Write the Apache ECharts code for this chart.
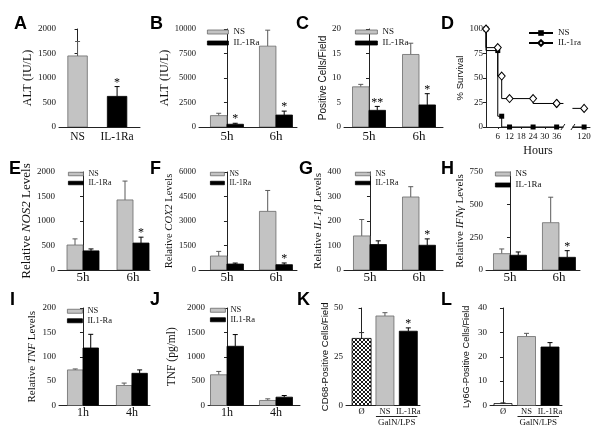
<!DOCTYPE html>
<html><head><meta charset="utf-8">
<script src="https://cdn.jsdelivr.net/npm/echarts@6/dist/echarts.min.js"></script>
<style>html,body{margin:0;padding:0;background:#fff}#c{width:600px;height:438px}</style>
</head><body><div id="c"></div>
<script>
// ---------------- DATA ----------------
// A
const catA = ['NS', 'IL-1Ra'];
const valA = [1450, 625];
const errA = [1745, 825];
const sigA = ['', '*'];
// B
const catB = ['5h', '6h'];
const nsB = [1160, 8250], nsBErr = [1400, 9880];
const ilB = [280, 1220], ilBErr = [380, 1620];
const ilBSig = ['*', '*'];
// C
const catC = ['5h', '6h'];
const nsC = [8.2, 14.8], nsCErr = [8.7, 17.1];
const ilC = [3.4, 4.5], ilCErr = [4.2, 6.8];
const ilCSig = ['**', '*'];
// D (survival)
const hoursD = [0, 6, 8, 12, 24, 36, 120];
const nsD = [100, 78, 11, 0, 0, 0, 0];
const ilD = [100, 81, 52, 29, 29, 24, 19];
const tickD = [6, 12, 18, 24, 30, 36, 120];
// E
const catE = ['5h', '6h'];
const nsE = [510, 1430], nsEErr = [635, 1815];
const ilE = [390, 550], ilEErr = [430, 670];
const ilESig = ['', '*'];
// F
const catF = ['5h', '6h'];
const nsF = [855, 3590], nsFErr = [1140, 4870];
const ilF = [365, 325], ilFErr = [425, 430];
const ilFSig = ['', '*'];
// G
const catG = ['5h', '6h'];
const nsG = [139, 298], nsGErr = [206, 340];
const ilG = [104, 101], ilGErr = [119, 127];
const ilGSig = ['', '*'];
// H
const catH = ['5h', '6h'];
const nsH = [125, 362], nsHErr = [161, 557];
const ilH = [113, 97], ilHErr = [138, 148];
const ilHSig = ['', '*'];
// I
const catI = ['1h', '4h'];
const nsI = [73, 41], nsIErr = [75, 46];
const ilI = [118, 66], ilIErr = [146, 73];
// J
const catJ = ['1h', '4h'];
const nsJ = [630, 103], nsJErr = [699, 137];
const ilJ = [1215, 171], ilJErr = [1455, 205];
// K
const catK = ['Ø', 'NS', 'IL-1Ra'];
const valK = [34.4, 45.9, 38.1], errK = [37.4, 47.6, 39.8];
const sigK = ['', '', '*'];
// L
const catL = ['Ø', 'NS', 'IL-1Ra'];
const valL = [0.8, 28.3, 24.0], errL = [1.1, 29.6, 25.8];

// ---------------- STYLE / HELPERS ----------------
const SERIF = 'Liberation Serif', SANS = 'Liberation Sans';
const GRAY = '#c3c3c3', GRAY_EDGE = '#6a6a6a', BLACK = '#000', INK = '#111';
const grids = [], xAxes = [], yAxes = [], series = [], legends = [], titles = [];

function hatchCanvas() {
  const c = document.createElement('canvas'); c.width = 4; c.height = 4;
  const g = c.getContext('2d');
  g.fillStyle = '#fff'; g.fillRect(0, 0, 4, 4);
  g.strokeStyle = '#000'; g.lineWidth = 0.9;
  g.beginPath(); g.moveTo(0, 0); g.lineTo(4, 4); g.moveTo(4, 0); g.lineTo(0, 4); g.stroke();
  return c;
}
const HATCH = {image: hatchCanvas(), repeat: 'repeat'};

function pick(v, i) { return Array.isArray(v) ? v[i] : v; }

function addGrid(left, top, width, height) {
  grids.push({left, top, width, height, containLabel: false, outerBoundsMode: 'none'});
  return grids.length - 1;
}
function addCatX(gi, cats, min, max, fs, margin) {
  xAxes.push({gridIndex: gi, type: 'value', min, max,
    axisLine: {show: true, onZero: false, lineStyle: {color: '#222', width: 1}},
    axisTick: {show: false}, splitLine: {show: false},
    axisLabel: {customValues: cats.map((c, i) => i), formatter: v => cats[Math.round(v)],
      fontFamily: SERIF, fontSize: fs, color: INK, margin}});
}
function addY(gi, max, interval, name, gap, family, fs, labelFs, rich) {
  yAxes.push({gridIndex: gi, type: 'value', min: 0, max, interval,
    axisLine: {show: true, lineStyle: {color: '#222', width: 1}},
    axisTick: {show: true, length: 3, lineStyle: {color: '#222'}},
    splitLine: {show: false},
    axisLabel: {fontFamily: SERIF, fontSize: labelFs || 9, color: INK, margin: 3, formatter: v => String(v)},
    name, nameLocation: 'middle', nameGap: gap, nameRotate: 90,
    nameTextStyle: {fontFamily: family, fontSize: fs, color: INK, rich: rich || {}}});
}
function italicRich(family, fs) {
  return {i: {fontStyle: 'italic', fontFamily: family, fontSize: fs, color: INK}};
}
function barRenderer(cfg) {
  return function (params, api) {
    const i = params.dataIndex;
    const x = api.value(0), v = api.value(1), e = api.value(2);
    const p0 = api.coord([x, 0]), p1 = api.coord([x, v]), pe = api.coord([x, e]);
    const cx = p0[0] + cfg.offset;
    const bw = pick(cfg.barW, i);
    const ec = pick(cfg.errColor, i);
    const children = [
      {type: 'line', shape: {x1: cx, y1: p1[1], x2: cx, y2: pe[1]}, style: {stroke: ec, lineWidth: 1}},
      {type: 'line', shape: {x1: cx - 2.5, y1: pe[1], x2: cx + 2.5, y2: pe[1]}, style: {stroke: ec, lineWidth: 1}},
      {type: 'rect', shape: {x: cx - bw / 2, y: p1[1], width: bw, height: p0[1] - p1[1]},
        style: {fill: pick(cfg.fill, i), stroke: pick(cfg.stroke, i), lineWidth: 0.8}}
    ];
    const s = cfg.sigs && cfg.sigs[i];
    if (s) children.push({type: 'text', style: {text: s, x: cx, y: pe[1] + 2, align: 'center',
      verticalAlign: 'bottom', font: '12px "Liberation Serif"', fill: '#000'}});
    return {type: 'group', children};
  };
}
function addBars(gi, name, vals, errs, cfg, legendStyle) {
  series.push({type: 'custom', name, xAxisIndex: gi, yAxisIndex: gi, clip: true,
    itemStyle: legendStyle, encode: {x: 0, y: [1, 2]},
    data: vals.map((v, k) => [k, v, errs[k]]), renderItem: barRenderer(cfg)});
}
const NS_STYLE = {color: GRAY, borderColor: GRAY_EDGE, borderWidth: 0.8};
const IL_STYLE = {color: BLACK, borderColor: BLACK, borderWidth: 0.8};

function addLegend(left, top, names, iw, ih, fs, lh, gap) {
  legends.push({left, top, orient: 'vertical', padding: 0, itemWidth: iw, itemHeight: ih, itemGap: gap,
    icon: 'rect', selectedMode: false,
    data: [{name: names[0], itemStyle: NS_STYLE}, {name: names[1], itemStyle: IL_STYLE}],
    textStyle: {fontFamily: SERIF, fontSize: fs, lineHeight: lh, color: INK}});
}

function pairPanel(p) {
  const gi = addGrid(p.left, p.top, p.width, p.height);
  addCatX(gi, p.cats, p.xmin, p.xmax, p.catFs, p.catMargin);
  addY(gi, p.ymax, p.yint, p.name, p.gap, p.family, p.fs, p.labelFs, p.rich);
  addBars(gi, 'NS', p.ns, p.nsErr, {offset: -p.bw / 2, barW: p.bw, fill: GRAY, stroke: GRAY_EDGE, errColor: '#5a5a5a'}, NS_STYLE);
  addBars(gi, p.ilName, p.il, p.ilErr, {offset: p.bw / 2, barW: p.bw, fill: BLACK, stroke: BLACK, errColor: '#000', sigs: p.ilSig}, IL_STYLE);
  addLegend(p.lg[0], p.lg[1], ['NS', p.ilName], p.lg[2], p.lg[3], p.lg[4], p.lg[5], p.lg[6]);
  return gi;
}

// ---------------- PANELS ----------------
// A
const gA = addGrid(59, 29, 81, 98);
addCatX(gA, catA, -0.47, 1.58, 11.5, 4);
addY(gA, 2000, 500, 'ALT (IU/L)', 23, SERIF, 12, 9);
addBars(gA, 'ALT', valA, errA, {offset: 0, barW: 19.5, fill: [GRAY, BLACK], stroke: [GRAY_EDGE, BLACK],
  errColor: ['#5a5a5a', '#000'], sigs: sigA}, NS_STYLE);

// B
pairPanel({left: 199, top: 29, width: 98, height: 98, xmin: -0.571, xmax: 1.43, cats: catB, catFs: 13, catMargin: 3,
  ymax: 10000, yint: 2500, name: 'ALT (IU/L)', gap: 20, family: SERIF, fs: 12, labelFs: 8.5,
  ns: nsB, nsErr: nsBErr, il: ilB, ilErr: ilBErr, ilSig: ilBSig, ilName: 'IL-1Ra', bw: 16.5,
  lg: [207, 27.5, 21, 4, 9, 9, 2]});
// C
pairPanel({left: 344, top: 29, width: 99, height: 98, xmin: -0.5, xmax: 1.48, cats: catC, catFs: 13, catMargin: 3,
  ymax: 20, yint: 5, name: 'Positive Cells/Field', gap: 14, family: SANS, fs: 10, labelFs: 9,
  ns: nsC, nsErr: nsCErr, il: ilC, ilErr: ilCErr, ilSig: ilCSig, ilName: 'IL-1Ra', bw: 16.5,
  lg: [355, 27.5, 22, 4, 9, 9, 2]});

// D (survival, broken x axis)
const breakX = h => (h <= 36 ? h : 50);
const gD = addGrid(486, 29, 104, 98);
xAxes.push({gridIndex: gD, type: 'value', min: 0, max: 53,
  axisLine: {show: true, onZero: false, lineStyle: {color: '#222'}},
  axisTick: {show: true, length: 2, customValues: tickD.map(breakX), lineStyle: {color: '#222'}},
  splitLine: {show: false},
  axisLabel: {customValues: tickD.map(breakX), formatter: v => String(tickD[tickD.map(breakX).indexOf(v)]),
    fontFamily: SERIF, fontSize: 9, color: INK, margin: 5},
  name: 'Hours', nameLocation: 'middle', nameGap: 18,
  nameTextStyle: {fontFamily: SERIF, fontSize: 12, color: INK}});
addY(gD, 100, 25, '% Survival', 20, SANS, 9.5, 9);
const dPts = (vals) => hoursD.map((h, i) => [breakX(h), vals[i]]);
series.push({type: 'line', name: 'NS-D', xAxisIndex: gD, yAxisIndex: gD, step: 'start', data: dPts(nsD),
  symbol: 'rect', symbolSize: 5, lineStyle: {color: '#000', width: 1}, itemStyle: {color: '#000'}, z: 3});
const ilPts = dPts(ilD);
series.push({type: 'line', name: 'IL-1ra', xAxisIndex: gD, yAxisIndex: gD, step: 'start', data: ilPts.slice(0, 6),
  symbol: 'diamond', symbolSize: [7, 8], lineStyle: {color: '#000', width: 1},
  itemStyle: {color: '#fff', borderColor: '#000', borderWidth: 1}, z: 4});
series.push({type: 'line', name: 'IL-1ra', xAxisIndex: gD, yAxisIndex: gD, step: 'middle', data: ilPts.slice(5),
  symbol: 'diamond', symbolSize: [7, 8], lineStyle: {color: '#000', width: 1},
  itemStyle: {color: '#fff', borderColor: '#000', borderWidth: 1}, z: 4});
legends.push({left: 528, top: 28.5, orient: 'vertical', padding: 0, itemWidth: 24, itemHeight: 7, itemGap: 1,
  selectedMode: false, data: ['NS-D', 'IL-1ra'], formatter: n => (n === 'NS-D' ? 'NS' : n),
  textStyle: {fontFamily: SERIF, fontSize: 9, lineHeight: 9, color: INK}});

// E
pairPanel({left: 58, top: 172, width: 92, height: 98, xmin: -0.5, xmax: 1.34, cats: catE, catFs: 13, catMargin: 1,
  ymax: 2000, yint: 500, name: 'Relative {i|NOS2} Levels', gap: 22.5, family: SERIF, fs: 13, labelFs: 9,
  rich: italicRich(SERIF, 13),
  ns: nsE, nsErr: nsEErr, il: ilE, ilErr: ilEErr, ilSig: ilESig, ilName: 'IL-1Ra', bw: 16,
  lg: [68, 170, 15, 3.5, 8, 8, 1]});
// F
pairPanel({left: 199, top: 172, width: 98, height: 98, xmin: -0.571, xmax: 1.43, cats: catF, catFs: 13, catMargin: 1,
  ymax: 6000, yint: 1500, name: 'Relative {i|COX2} Levels', gap: 19, family: SERIF, fs: 10.5, labelFs: 8.5,
  rich: italicRich(SERIF, 10.5),
  ns: nsF, nsErr: nsFErr, il: ilF, ilErr: ilFErr, ilSig: ilFSig, ilName: 'IL-1Ra', bw: 16.5,
  lg: [210, 170, 14, 3.5, 7.5, 8, 1]});
// G
pairPanel({left: 344, top: 172, width: 99, height: 98, xmin: -0.53, xmax: 1.49, cats: catG, catFs: 13, catMargin: 1,
  ymax: 400, yint: 100, name: 'Relative {i|IL-1β} Levels', gap: 16, family: SERIF, fs: 11, labelFs: 9,
  rich: italicRich(SERIF, 11),
  ns: nsG, nsErr: nsGErr, il: ilG, ilErr: ilGErr, ilSig: ilGSig, ilName: 'IL-1Ra', bw: 16.5,
  lg: [355, 170, 15, 3.5, 8, 8, 1]});
// H
pairPanel({left: 486, top: 172, width: 94, height: 98, xmin: -0.49, xmax: 1.43, cats: catH, catFs: 13, catMargin: 1,
  ymax: 750, yint: 250, name: 'Relative {i|IFNγ} Levels', gap: 20.5, family: SERIF, fs: 11, labelFs: 9,
  rich: italicRich(SERIF, 11),
  ns: nsH, nsErr: nsHErr, il: ilH, ilErr: ilHErr, ilSig: ilHSig, ilName: 'IL-1Ra', bw: 16.5,
  lg: [495, 169.5, 15, 4, 9, 9, 2]});
// I
pairPanel({left: 59, top: 308, width: 91, height: 97.5, xmin: -0.49, xmax: 1.37, cats: catI, catFs: 12, catMargin: 1,
  ymax: 200, yint: 50, name: 'Relative {i|TNF} Levels', gap: 21, family: SERIF, fs: 11, labelFs: 9,
  rich: italicRich(SERIF, 11),
  ns: nsI, nsErr: nsIErr, il: ilI, ilErr: ilIErr, ilSig: null, ilName: 'IL1-Ra', bw: 15.5,
  lg: [67, 306.75, 15, 4, 8.5, 8.5, 0.5]});
// J
pairPanel({left: 208, top: 308, width: 92, height: 97.5, xmin: -0.388, xmax: 1.49, cats: catJ, catFs: 12, catMargin: 1,
  ymax: 2000, yint: 500, name: 'TNF (pg/ml)', gap: 30, family: SERIF, fs: 11.5, labelFs: 9,
  ns: nsJ, nsErr: nsJErr, il: ilJ, ilErr: ilJErr, ilSig: null, ilName: 'IL1-Ra', bw: 16.5,
  lg: [210, 305.75, 15, 4, 8.5, 8.5, 0.5]});

// K
const gK = addGrid(346, 308, 74, 97.5);
addCatX(gK, catK, -0.667, 2.5, 8.5, 2);
addY(gK, 50, 25, 'CD68-Positive Cells/Field', 15, SANS, 9.6, 9);
addBars(gK, 'CD68', valK, errK, {offset: 0, barW: [19, 18, 18], fill: [HATCH, GRAY, BLACK],
  stroke: ['#000', GRAY_EDGE, BLACK], errColor: ['#333', '#5a5a5a', '#000'], sigs: sigK}, NS_STYLE);
// L
const gL = addGrid(490, 308, 72, 97.5);
addCatX(gL, catL, -0.553, 2.51, 8.5, 2);
addY(gL, 40, 10, 'Ly6G-Positive Cells/Field', 19, SANS, 9.2, 9);
addBars(gL, 'Ly6G', valL, errL, {offset: 0, barW: 18, fill: ['#fff', GRAY, BLACK],
  stroke: ['#000', GRAY_EDGE, BLACK], errColor: ['#333', '#5a5a5a', '#000'], sigs: null}, NS_STYLE);

// panel letters
const letters = [['A', 14, 15], ['B', 150, 15], ['C', 296, 15], ['D', 441, 15],
  ['E', 9, 160], ['F', 150, 160], ['G', 299, 160], ['H', 441, 160],
  ['I', 10, 291], ['J', 150, 291], ['K', 297, 291], ['L', 441, 291]];
letters.forEach(([t, l, tp]) => titles.push({text: t, left: l, top: tp, padding: 0,
  textStyle: {fontFamily: SANS, fontWeight: 'bold', fontSize: 18, color: '#000'}}));

const chart = echarts.init(document.getElementById('c'), null, {renderer: 'canvas'});
chart.setOption({animation: false, backgroundColor: '#fff', title: titles, grid: grids,
  xAxis: xAxes, yAxis: yAxes, legend: legends, series});

// decorations derived from the axes: axis break on D, GalN/LPS grouping on K and L
const gfx = [];
const b1 = chart.convertToPixel({gridIndex: gD}, [39.2, 0]);
const b2 = chart.convertToPixel({gridIndex: gD}, [44.3, 0]);
const bTop = chart.convertToPixel({gridIndex: gD}, [0, 40]);
gfx.push({type: 'rect', z: 100, shape: {x: b1[0] + 0.5, y: bTop[1], width: b2[0] - b1[0] - 1, height: b1[1] - bTop[1] + 3},
  style: {fill: '#fff'}});
[b1, b2].forEach(p => gfx.push({type: 'line', z: 101,
  shape: {x1: p[0] - 2, y1: p[1] + 3, x2: p[0] + 2, y2: p[1] - 3}, style: {stroke: '#222', lineWidth: 1}}));
[gK, gL].forEach(g => {
  const pNS = chart.convertToPixel({gridIndex: g}, [1, 0]);
  const pIL = chart.convertToPixel({gridIndex: g}, [2, 0]);
  gfx.push({type: 'line', z: 100, shape: {x1: pNS[0] - 9, y1: pNS[1] + 11, x2: pIL[0] + 9, y2: pNS[1] + 11},
    style: {stroke: '#222', lineWidth: 1}});
  gfx.push({type: 'text', z: 100, style: {text: 'GalN/LPS', x: (pNS[0] + pIL[0]) / 2, y: pNS[1] + 17.5,
    align: 'center', verticalAlign: 'middle', font: '9px "Liberation Serif"', fill: INK}});
});
chart.setOption({graphic: gfx});
</script>
</body></html>
